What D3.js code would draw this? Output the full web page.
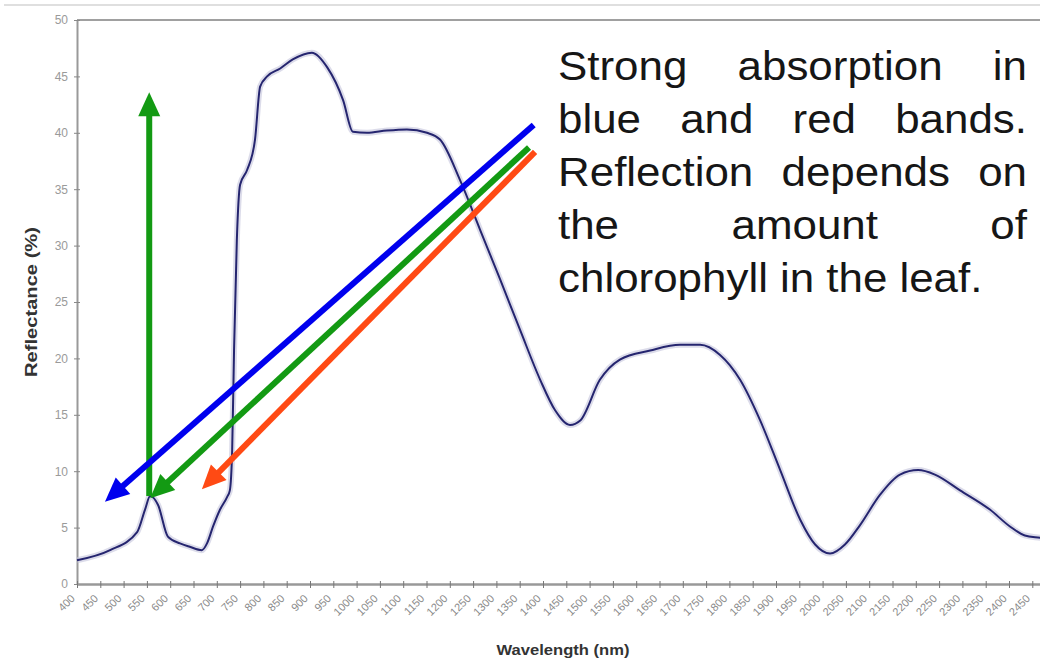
<!DOCTYPE html>
<html>
<head>
<meta charset="utf-8">
<script src="https://cdn.jsdelivr.net/npm/d3@7"></script>
<style>
  body { margin: 0; background: #fff; }
  svg { display: block; font-family: "Liberation Sans", Arial, sans-serif; }
</style>
</head>
<body>
<svg id="chart" width="1040" height="665"></svg>
<script>
// leaf reflectance spectrum
const wavelength = [400, 471, 529, 546, 557, 574, 595, 621, 642, 668, 679, 692, 707, 722, 728, 733, 737, 743, 750,
  765, 782, 793, 808, 836, 863, 904, 937, 971, 992, 1022, 1065, 1108, 1151, 1179, 1222, 1265, 1308, 1351,
  1394, 1426, 1458, 1480, 1522, 1565, 1630, 1694, 1737, 1780, 1823, 1866, 1909, 1952, 1984, 2016, 2048,
  2080, 2123, 2166, 2205, 2241, 2295, 2359, 2402, 2434, 2467, 2500]
const reflectance = [2.1, 3.0, 4.6, 6.6, 7.8, 7.0, 4.2, 3.6, 3.3, 3.0, 3.6, 5.1, 6.6, 7.7, 8.3, 11.9, 20.7, 30.5, 35.4,
  36.7, 39.4, 44.1, 45.0, 45.7, 46.5, 47.1, 45.8, 42.9, 40.1, 40.0, 40.2, 40.3, 40.0, 39.4, 35.8, 31.4, 27.0, 22.5,
  18.1, 15.4, 14.1, 14.5, 18.1, 19.9, 20.7, 21.2, 21.2, 20.3, 18.1, 14.5, 10.1, 5.7, 3.5, 2.7, 3.5,
  5.2, 7.9, 9.7, 10.1, 9.7, 8.3, 6.6, 5.1, 4.3, 4.1, 3.9]

const xTicks = d3.range(400, 2451, 50)
const yTicks = d3.range(0, 51, 5)

// annotation arrows, in data units
const arrowColors = ["#139a13", "#0000ee", "#139a13", "#ff4a14"]
const arrowFromWl = [555, 1380, 1370, 1383]
const arrowFromR = [7.8, 40.7, 38.7, 38.3]
const arrowToWl = [555, 460, 557, 668]
const arrowToR = [43.6, 7.3, 7.6, 8.4]

const noteLines = [
  ["Strong", "absorption", "in"],
  ["blue", "and", "red", "bands."],
  ["Reflection", "depends", "on"],
  ["the", "amount", "of"],
  ["chlorophyll", "in", "the", "leaf."]
]

const svg = d3.select("#chart")
const x = d3.scaleLinear().domain([400, 2500]).range([77, 77 + 42 * 23.3])
const y = d3.scaleLinear().domain([0, 50]).range([584, 20])

// slide border + plot top frame
svg.append("line").attr("x1", 4).attr("x2", 1040).attr("y1", 5).attr("y2", 5)
  .attr("stroke", "#d4d4d4").attr("stroke-width", 1.5)
svg.append("line").attr("x1", x(400)).attr("x2", 1040).attr("y1", y(50)).attr("y2", y(50))
  .attr("stroke", "#a0a0a0").attr("stroke-width", 2)

// y axis
const yAxis = svg.append("g").attr("transform", "translate(" + x(400) + ",0)")
  .call(d3.axisLeft(y).tickValues(yTicks).tickSize(0).tickPadding(9))
yAxis.select(".domain").attr("stroke", "#999").attr("stroke-width", 2)
yAxis.selectAll("text").attr("font-size", 12).attr("fill", "#9a9a9a")
yAxis.selectAll(".tick").append("line").attr("x1", -3).attr("x2", 3)
  .attr("stroke", "#888").attr("stroke-width", 1)

// x axis
const xAxis = svg.append("g").attr("transform", "translate(0," + y(0) + ")")
  .call(d3.axisBottom(x).tickValues(xTicks).tickSize(0).tickFormat(d3.format("d")))
xAxis.select(".domain").attr("stroke", "#999").attr("stroke-width", 2.5)
xAxis.selectAll(".tick").append("line").attr("y1", -3).attr("y2", 4)
  .attr("stroke", "#777").attr("stroke-width", 1)
xAxis.selectAll("text")
  .attr("font-size", 11).attr("fill", "#8a8a8a")
  .attr("text-anchor", "end").attr("dy", 0)
  .attr("transform", "translate(-4,13) rotate(-45)")

svg.append("text").attr("x", 563).attr("y", 655).attr("text-anchor", "middle")
  .attr("font-size", 15).attr("font-weight", "bold").attr("fill", "#333")
  .attr("textLength", 133).attr("lengthAdjust", "spacingAndGlyphs")
  .text("Wavelength (nm)")
svg.append("text").attr("transform", "translate(37,302) rotate(-90)").attr("text-anchor", "middle")
  .attr("font-size", 16).attr("font-weight", "bold").attr("fill", "#333")
  .attr("textLength", 150).attr("lengthAdjust", "spacingAndGlyphs")
  .text("Reflectance (%)")

// curve
const line = d3.line().x(d => x(d[0])).y(d => y(d[1])).curve(d3.curveMonotoneX)
const pts = wavelength.map((w, i) => [w, reflectance[i]])
svg.append("path").datum(pts).attr("d", line).attr("fill", "none")
  .attr("stroke", "#c4c4dc").attr("stroke-width", 6).attr("opacity", 0.6)
svg.append("path").datum(pts).attr("d", line).attr("fill", "none")
  .attr("stroke", "#25256f").attr("stroke-width", 2)

// arrows
function drawArrow(x1, y1, x2, y2, color) {
  const dx = x2 - x1, dy = y2 - y1, len = Math.hypot(dx, dy)
  const ux = dx / len, uy = dy / len
  const headLen = 24, half = 11
  const bx = x2 - ux * headLen, by = y2 - uy * headLen
  svg.append("line").attr("x1", x1).attr("y1", y1).attr("x2", bx + ux * 4).attr("y2", by + uy * 4)
    .attr("stroke", color).attr("stroke-width", 6)
  svg.append("polygon")
    .attr("points", [[x2, y2], [bx - uy * half, by + ux * half], [bx + uy * half, by - ux * half]].join(" "))
    .attr("fill", color)
}
arrowColors.forEach((c, i) => {
  drawArrow(x(arrowFromWl[i]), y(arrowFromR[i]), x(arrowToWl[i]), y(arrowToR[i]), c)
})

// justified note
const sx = 1.098, boxW = 469 / sx
const note = svg.append("g").attr("transform", "translate(558,0) scale(" + sx + ",1)")
noteLines.forEach((words, li) => {
  const base = 80 + li * 53
  const texts = words.map(w => note.append("text").attr("y", base)
    .attr("font-size", 40).attr("fill", "#161616").text(w))
  const widths = texts.map(t => t.node().getComputedTextLength())
  const total = d3.sum(widths)
  const last = li === noteLines.length - 1
  const gap = last ? 11 : (boxW - total) / (words.length - 1)
  let cx = 0
  texts.forEach((t, i) => { t.attr("x", cx); cx += widths[i] + gap })
})
</script>
</body>
</html>
